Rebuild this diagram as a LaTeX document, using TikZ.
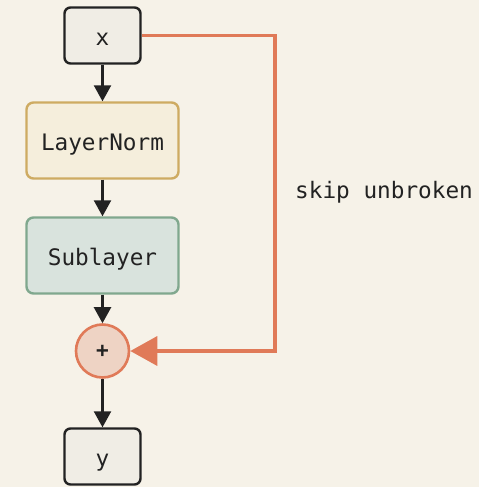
\documentclass[tikz,border=0pt]{standalone}
\usepackage{fontspec}
\setmonofont{DejaVu Sans Mono}
\usetikzlibrary{arrows.meta}
\definecolor{bgc}{HTML}{F6F2E8}
\definecolor{ink}{HTML}{222222}
\definecolor{iofill}{HTML}{F0EDE5}
\definecolor{lnfill}{HTML}{F5EEDC}
\definecolor{lnline}{HTML}{CEAB62}
\definecolor{slfill}{HTML}{D9E3DD}
\definecolor{slline}{HTML}{80A88E}
\definecolor{addfill}{HTML}{EED3C4}
\definecolor{skipc}{HTML}{E07A58}
\begin{document}
\begin{tikzpicture}[x=1pt,y=-1pt,
  font=\ttfamily\fontsize{22.7}{26}\selectfont,
  txt/.style={text height=20pt,text depth=0pt},
  iobox/.style={txt,draw=ink,line width=2.4pt,fill=iofill,rounded corners=6pt,
    minimum width=76pt,minimum height=56pt,inner sep=0pt,text=ink},
  stagebox/.style={txt,line width=2.4pt,rounded corners=7pt,
    minimum width=152pt,minimum height=76pt,inner sep=0pt,text=ink},
  addnode/.style={circle,draw=skipc,fill=addfill,line width=2.6pt,
    minimum size=53pt,inner sep=0pt,text=ink,font=\ttfamily\bfseries\fontsize{21}{24}\selectfont},
  flow/.style={draw=ink,line width=2.4pt,-{Triangle[length=16pt,width=17pt]}},
  skip/.style={draw=skipc,line width=3.6pt,-{Triangle[length=27pt,width=29pt]}}
]
\fill[bgc] (0,0) rectangle (479,487);
\useasboundingbox (0,0) rectangle (479,487);

\node[iobox] (x) at (102.5,35.5) {x};
\node[stagebox,draw=lnline,fill=lnfill] (ln) at (102.5,140.5) {LayerNorm};
\node[stagebox,draw=slline,fill=slfill] (sl) at (102.5,255.5) {Sublayer};
\node[addnode] (add) at (102.5,351) {+};
\node[iobox] (y) at (102.5,456.5) {y};

\draw[flow] (x) -- (ln);
\draw[flow] (ln) -- (sl);
\draw[flow] (sl) -- (add);
\draw[flow] (add) -- (y);

\coordinate (c1) at (275,35.5);
\coordinate (c2) at (275,351);
\draw[skip] (x.east) -- (c1) -- (c2) -- (add.east);
\node[txt,anchor=west,text=ink,inner sep=0pt] (lbl) at (295,188) {skip unbroken};
\end{tikzpicture}
\end{document}
